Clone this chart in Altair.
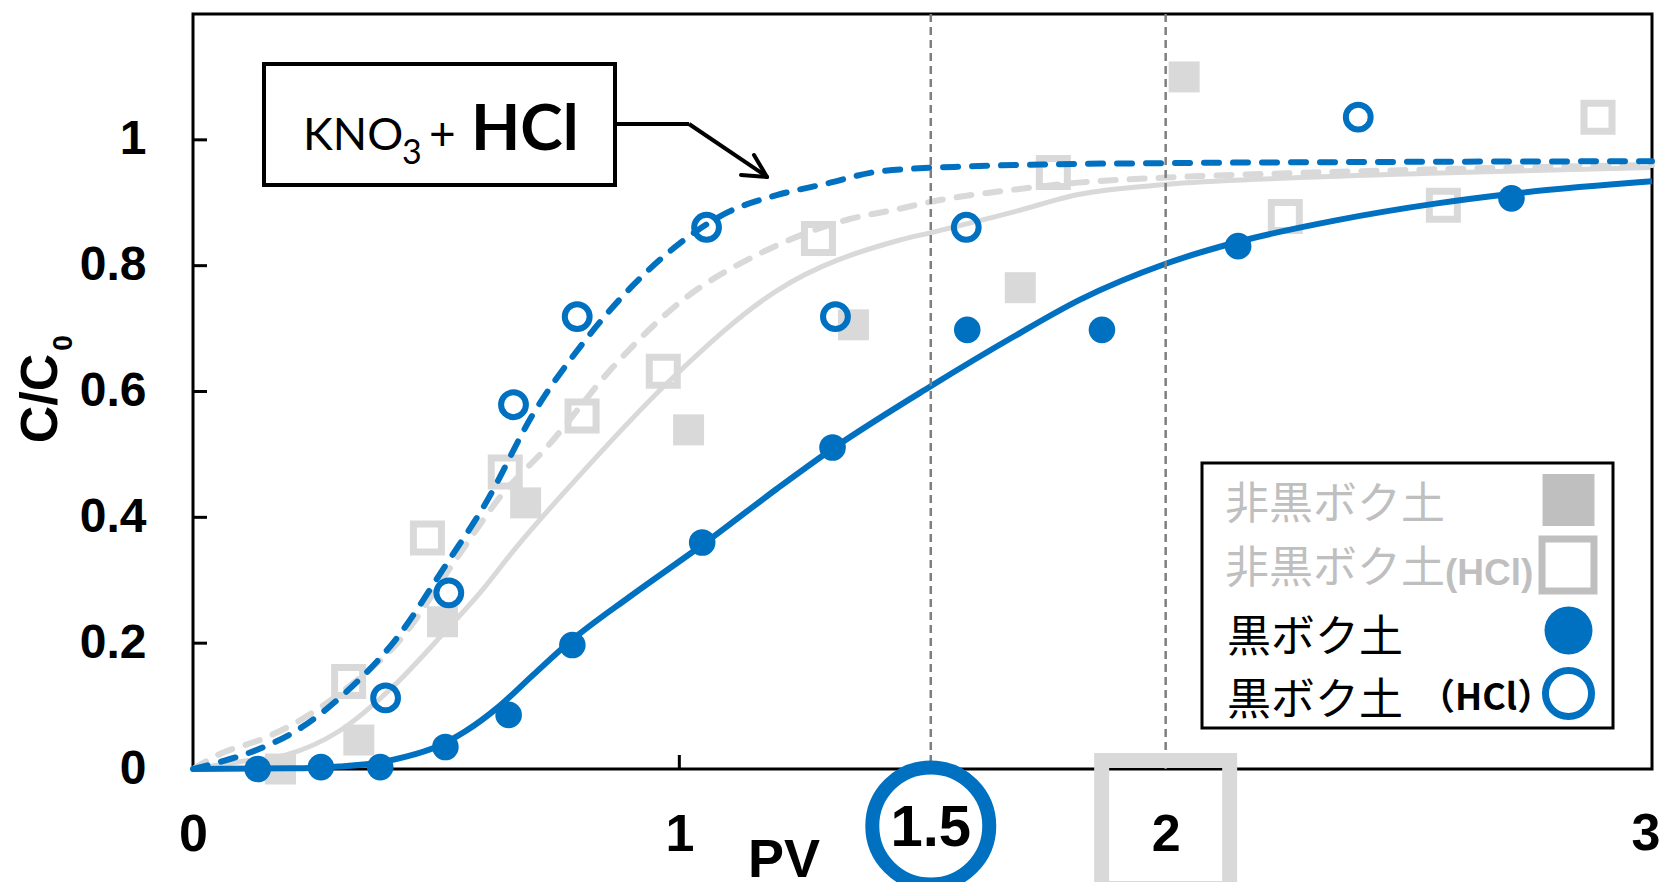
import altair as alt
import pandas as pd

# ---------------- data ----------------
# 黒ボク土 (filled blue circles)
BK_X = [0.133, 0.263, 0.385, 0.519, 0.649, 0.78, 1.047, 1.315, 1.592, 1.869, 2.149, 2.711]
BK_Y = [0.0, 0.003, 0.003, 0.035, 0.086, 0.197, 0.36, 0.511, 0.698, 0.698, 0.831, 0.907]
# 黒ボク土 (HCl) (open blue circles)
BKH_X = [0.396, 0.526, 0.659, 0.79, 1.056, 1.321, 1.59, 2.396]
BKH_Y = [0.113, 0.28, 0.579, 0.719, 0.861, 0.719, 0.861, 1.036]
# 非黒ボク土 (filled grey squares)
NB_X = [0.18, 0.341, 0.513, 0.684, 1.019, 1.358, 1.701, 2.038]
NB_Y = [0.0, 0.046, 0.234, 0.423, 0.539, 0.706, 0.765, 1.10]
# 非黒ボク土 (HCl) (open grey squares)
NBH_X = [0.32, 0.482, 0.642, 0.80, 0.967, 1.286, 1.769, 2.246, 2.571, 2.889]
NBH_Y = [0.139, 0.367, 0.472, 0.561, 0.632, 0.843, 0.948, 0.878, 0.896, 1.036]

# fitted curves
FIT_BK_X = [0, 0.2, 0.3, 0.38, 0.44, 0.5, 0.56, 0.63, 0.7, 0.776, 0.9, 1.047, 1.2, 1.315, 1.516,
            1.687, 1.824, 2.0, 2.149, 2.35, 2.558, 2.708, 3.0]
FIT_BK_Y = [0, 0.001, 0.004, 0.01, 0.02, 0.035, 0.06, 0.1, 0.15, 0.203, 0.275, 0.356, 0.445,
            0.509, 0.608, 0.687, 0.746, 0.803, 0.838, 0.872, 0.899, 0.914, 0.934]
FIT_BKH_X = [0, 0.05, 0.12, 0.225, 0.313, 0.416, 0.523, 0.6, 0.7, 0.8, 0.9, 1.0, 1.1, 1.2, 1.3,
             1.413, 1.6, 1.756, 2.0, 2.5, 3.0]
FIT_BKH_Y = [0, 0.01, 0.027, 0.067, 0.121, 0.205, 0.328, 0.42, 0.565, 0.675, 0.765, 0.835, 0.885,
             0.912, 0.93, 0.95, 0.958, 0.961, 0.963, 0.965, 0.966]
FIT_NB_X = [0, 0.1, 0.19, 0.3, 0.41, 0.52, 0.59, 0.66, 0.8, 0.98, 1.2, 1.45, 1.52, 1.69, 1.82,
            2.0, 2.24, 2.6, 3.0]
FIT_NB_Y = [0, 0.012, 0.022, 0.06, 0.13, 0.22, 0.28, 0.348, 0.471, 0.617, 0.76, 0.84, 0.853,
            0.886, 0.913, 0.929, 0.939, 0.948, 0.956]
FIT_NBH_X = [0, 0.05, 0.15, 0.21, 0.33, 0.42, 0.544, 0.632, 0.728, 0.865, 1.0, 1.17, 1.345, 1.45,
             1.52, 1.69, 1.82, 2.0, 2.3, 2.6, 3.0]
FIT_NBH_Y = [0, 0.022, 0.05, 0.073, 0.137, 0.2, 0.337, 0.433, 0.512, 0.64, 0.741, 0.821, 0.873,
             0.89, 0.902, 0.921, 0.932, 0.94, 0.948, 0.954, 0.96]

X_TICKS = [0, 1, 2]
X_LAST_TICK = [3]
Y_TICKS = [0, 0.2, 0.4, 0.6, 0.8, 1]
X_INNER_TICKS = [1, 2]
Y_INNER_TICKS = [0.2, 0.4, 0.6, 0.8, 1]
MARK_LINES = [1.517, 2.0]
LEGEND_LABELS = ["非黒ボク土", "非黒ボク土", "黒ボク土", "黒ボク土"]

# ---------------- styling ----------------
W, H = 1459, 755
BLUE = "#0070C0"
GREY = "#D9D9D9"
LGREY = "#BFBFBF"
FONT = "Liberation Sans"
CJK = "Noto Sans CJK JP"

xs = alt.Scale(domain=[0, 3], nice=False, zero=False)
ys = alt.Scale(domain=[0, 1.2], nice=False, zero=False)
one = pd.DataFrame({"k": [0]})

x_axis = alt.Axis(values=X_TICKS, format="~g", labelFont=FONT, labelFontSize=52,
                  labelFontWeight="bold", labelColor="black", ticks=False, tickSize=0,
                  domain=False, grid=False, title=None, labelPadding=65,
                  labelBaseline="middle", labelFlush=False, labelOverlap=False)
y_axis = alt.Axis(values=Y_TICKS, format="~g", labelFont=FONT, labelFontSize=48,
                  labelFontWeight="bold", labelColor="black", ticks=False, tickSize=0,
                  domain=False, grid=False, title=None, labelPadding=47,
                  labelBaseline="middle", labelFlush=False, labelOverlap=False)


def df(x, y):
    return pd.DataFrame({"x": x, "y": y})


def X():
    return alt.X("x:Q", scale=xs, axis=x_axis)


def Y():
    return alt.Y("y:Q", scale=ys, axis=y_axis)


def txt(s, x, y, size, font=FONT, weight="normal", color="black", align="left",
        baseline="alphabetic", angle=0):
    kw = dict(fontSize=size, font=font, fontWeight=weight, color=color, align=align,
              baseline=baseline)
    if angle:
        kw["angle"] = angle
    return alt.Chart(one).mark_text(**kw).encode(x=alt.value(x), y=alt.value(y),
                                                 text=alt.value(s))


def seg(x1, y1, x2, y2, color="black", width=4, cap="butt"):
    return alt.Chart(one).mark_rule(color=color, strokeWidth=width, strokeCap=cap).encode(
        x=alt.value(x1), y=alt.value(y1), x2=alt.value(x2), y2=alt.value(y2))


# frame
frame = alt.Chart(one).mark_rect(fillOpacity=0, stroke="black", strokeWidth=3).encode(
    x=alt.value(0), x2=alt.value(W), y=alt.value(0), y2=alt.value(H))

# inner ticks
yticks = alt.Chart(pd.DataFrame({"y": Y_INNER_TICKS})).mark_rule(
    color="black", strokeWidth=3).encode(y=Y(), x=alt.value(0), x2=alt.value(14))
xticks = alt.Chart(pd.DataFrame({"x": X_INNER_TICKS})).mark_rule(
    color="black", strokeWidth=3).encode(x=X(), y=alt.value(H), y2=alt.value(H - 14))
# last x label (nudged so it stays inside the page edge)
xlast = alt.Chart(pd.DataFrame({"x": X_LAST_TICK})).mark_text(
    font=FONT, fontSize=52, fontWeight="bold", color="black", align="center",
    baseline="middle", dx=-6).encode(x=X(), y=alt.value(H + 65), text=alt.Text("x:Q"))

# curves
l_nb = alt.Chart(df(FIT_NB_X, FIT_NB_Y)).mark_line(
    color=GREY, strokeWidth=5, interpolate="monotone").encode(x=X(), y=Y())
l_nbh = alt.Chart(df(FIT_NBH_X, FIT_NBH_Y)).mark_line(
    color=GREY, strokeWidth=6, strokeDash=[15, 14], strokeCap="round",
    interpolate="monotone").encode(x=X(), y=Y())
l_bk = alt.Chart(df(FIT_BK_X, FIT_BK_Y)).mark_line(
    color=BLUE, strokeWidth=6, interpolate="monotone").encode(x=X(), y=Y())
l_bkh = alt.Chart(df(FIT_BKH_X, FIT_BKH_Y)).mark_line(
    color=BLUE, strokeWidth=6, strokeDash=[15, 14], strokeCap="round",
    interpolate="monotone").encode(x=X(), y=Y())

# points
p_nb = alt.Chart(df(NB_X, NB_Y)).mark_point(
    shape="square", size=961, filled=True, color=GREY, opacity=1).encode(x=X(), y=Y())
p_nbh = alt.Chart(df(NBH_X, NBH_Y)).mark_point(
    shape="square", size=784, filled=False, color=GREY, strokeWidth=7, opacity=1).encode(
    x=X(), y=Y())
p_bk = alt.Chart(df(BK_X, BK_Y)).mark_point(
    shape="circle", size=707, filled=True, color=BLUE, opacity=1).encode(x=X(), y=Y())
p_bkh = alt.Chart(df(BKH_X, BKH_Y)).mark_point(
    shape="circle", size=616, filled=False, color=BLUE, strokeWidth=6, opacity=1).encode(
    x=X(), y=Y())

# vertical dashed lines
vlines = alt.Chart(pd.DataFrame({"x": MARK_LINES})).mark_rule(
    color="#7F7F7F", strokeWidth=2.5, strokeDash=[8, 5]).encode(
    x=X(), y=alt.value(0), y2=alt.value(H))

# highlight around 1.5 and 2
circ = alt.Chart(pd.DataFrame({"x": [MARK_LINES[0]]})).mark_point(
    shape="circle", size=13685, filled=False, color=BLUE, strokeWidth=14, opacity=1).encode(
    x=X(), y=alt.value(812))
sq = alt.Chart(pd.DataFrame({"x": [MARK_LINES[1]]})).mark_point(
    shape="square", size=16384, filled=False, color=GREY, strokeWidth=15, opacity=1).encode(
    x=X(), y=alt.value(810.5))
lab15 = alt.Chart(pd.DataFrame({"x": [MARK_LINES[0]]})).mark_text(
    font=FONT, fontSize=58, fontWeight="bold", color="black", align="center",
    baseline="middle").encode(x=X(), y=alt.value(815), text=alt.value("1.5"))

# axis titles
ytitle = txt("C/C", -136, 384.5, 52, weight="bold", align="center", angle=270)
ytitle0 = txt("0", -121, 329, 28, weight="bold", align="center", angle=270)
xtitle = txt("PV", 591, 847, 54, weight="bold", align="center", baseline="middle")

# KNO3 + HCl annotation
box = alt.Chart(one).mark_rect(fill="white", stroke="black", strokeWidth=4).encode(
    x=alt.value(71), x2=alt.value(422), y=alt.value(50), y2=alt.value(171))
t_kno = txt("KNO", 110, 136, 45, font="Lato")
t_3 = txt("3", 209, 150, 34, font="Lato")
t_plus = txt("+", 236, 136, 46, font="Lato")
t_hcl = txt("HCl", 278, 136, 64, font="Lato", weight="bold")
arrow = [
    seg(422, 110, 496, 110, width=4),
    seg(496, 110, 573, 162, width=4),
    seg(574, 163, 561, 141, width=4, cap="round"),
    seg(574, 163, 548, 161, width=4, cap="round"),
]

# legend
lbox = alt.Chart(one).mark_rect(fill="white", stroke="black", strokeWidth=3).encode(
    x=alt.value(1009), x2=alt.value(1420), y=alt.value(449), y2=alt.value(714))
leg = [
    txt(LEGEND_LABELS[0], 1032, 492, 44, font=CJK, color=LGREY, baseline="middle"),
    txt(LEGEND_LABELS[1], 1032, 556, 44, font=CJK, color=LGREY, baseline="middle"),
    txt("(HCl)", 1252, 571, 37, weight="bold", color=LGREY),
    txt(LEGEND_LABELS[2], 1034, 625, 44, font=CJK, color="black", baseline="middle"),
    txt(LEGEND_LABELS[3], 1034, 688, 44, font=CJK, color="black", baseline="middle"),
    txt("（HCl）", 1226, 696, 36, font=CJK, weight="bold", color="black"),
    alt.Chart(one).mark_point(shape="square", size=2700, filled=True, color=LGREY,
                              opacity=1).encode(x=alt.value(1375.5), y=alt.value(486)),
    alt.Chart(one).mark_point(shape="square", size=2700, filled=False, color=LGREY,
                              strokeWidth=7, opacity=1).encode(x=alt.value(1375),
                                                               y=alt.value(551)),
    alt.Chart(one).mark_point(shape="circle", size=2300, filled=True, color=BLUE,
                              opacity=1).encode(x=alt.value(1375.5), y=alt.value(616.5)),
    alt.Chart(one).mark_point(shape="circle", size=2124, filled=False, color=BLUE,
                              strokeWidth=7, opacity=1).encode(x=alt.value(1375.5),
                                                               y=alt.value(679.5)),
]

chart = alt.layer(
    l_nb, frame, yticks, xticks, xlast, l_nbh, p_nb, p_nbh, l_bk, l_bkh, p_bk, p_bkh,
    vlines, circ, sq, lab15, ytitle, ytitle0, xtitle, box, t_kno, t_3, t_plus, t_hcl,
    *arrow, lbox, *leg,
).properties(
    width=W, height=H,
    autosize=alt.AutoSizeParams(type="none"),
    padding={"left": 185, "top": 6, "right": 8, "bottom": 113},
    background="white",
).configure_view(strokeWidth=0)

chart.save("out.html", embed_options={"renderer": "svg", "actions": False})
